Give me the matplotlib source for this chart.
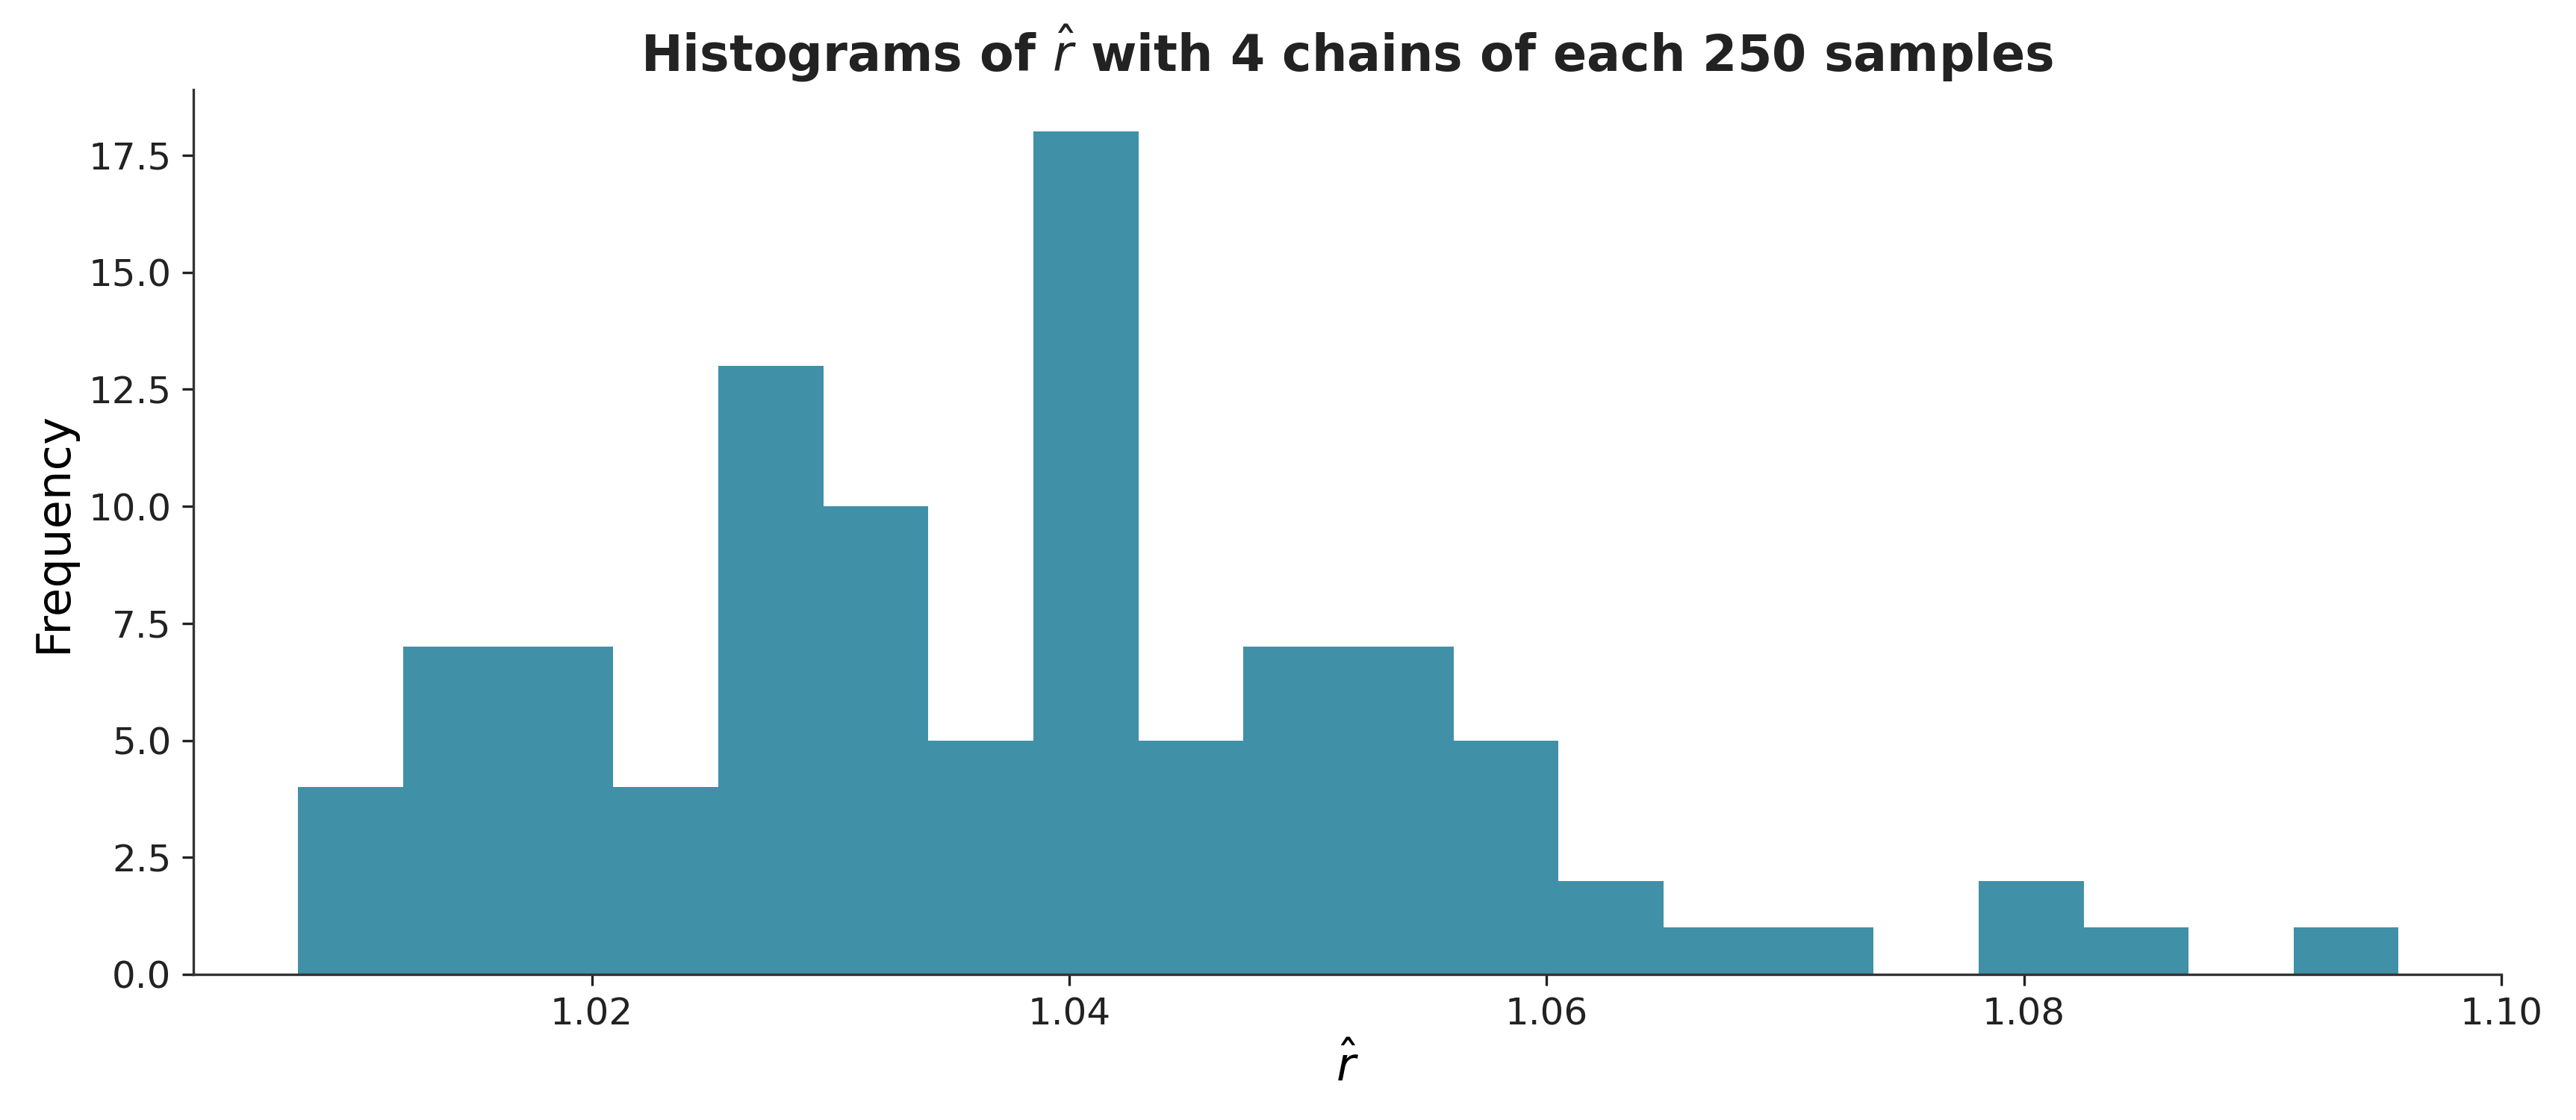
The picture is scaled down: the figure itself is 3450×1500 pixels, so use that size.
import numpy as np
import matplotlib.pyplot as plt

counts = [4, 7, 7, 7, 4, 4, 13, 10, 5, 18, 5, 7, 7, 5, 2, 1, 1, 0, 2, 1, 0, 1]
counts = [4, 7, 7, 4, 13, 10, 5, 18, 5, 7, 7, 5, 2, 1, 1, 0, 2, 1, 0, 1]
lo, hi = 1.0077, 1.0957
edges = np.linspace(lo, hi, len(counts) + 1)
centers = (edges[:-1] + edges[1:]) / 2

fig, ax = plt.subplots(figsize=(11.5, 5), dpi=300)
ax.hist(centers, bins=edges, weights=counts, color='#4090a8')
ax.set_xlim(1.0033, 1.10)
ax.set_ylim(0, 18.9)
ax.set_xticks([1.02, 1.04, 1.06, 1.08, 1.10])
ax.set_yticks(np.arange(0, 18, 2.5))
ax.spines['top'].set_visible(False)
ax.spines['right'].set_visible(False)
for s in ax.spines.values():
    s.set_color('#333333')
ax.tick_params(labelsize=12, colors='#222222')
ax.set_xlabel(r'$\hat{r}$', fontsize=15)
ax.set_ylabel('Frequency', fontsize=15)
ax.set_title(r'Histograms of $\hat{r}$ with 4 chains of each 250 samples',
             fontsize=16, fontweight='bold', color='#222222')
fig.subplots_adjust(left=0.075, right=0.971, bottom=0.13, top=0.92)
fig.savefig('out.png')
